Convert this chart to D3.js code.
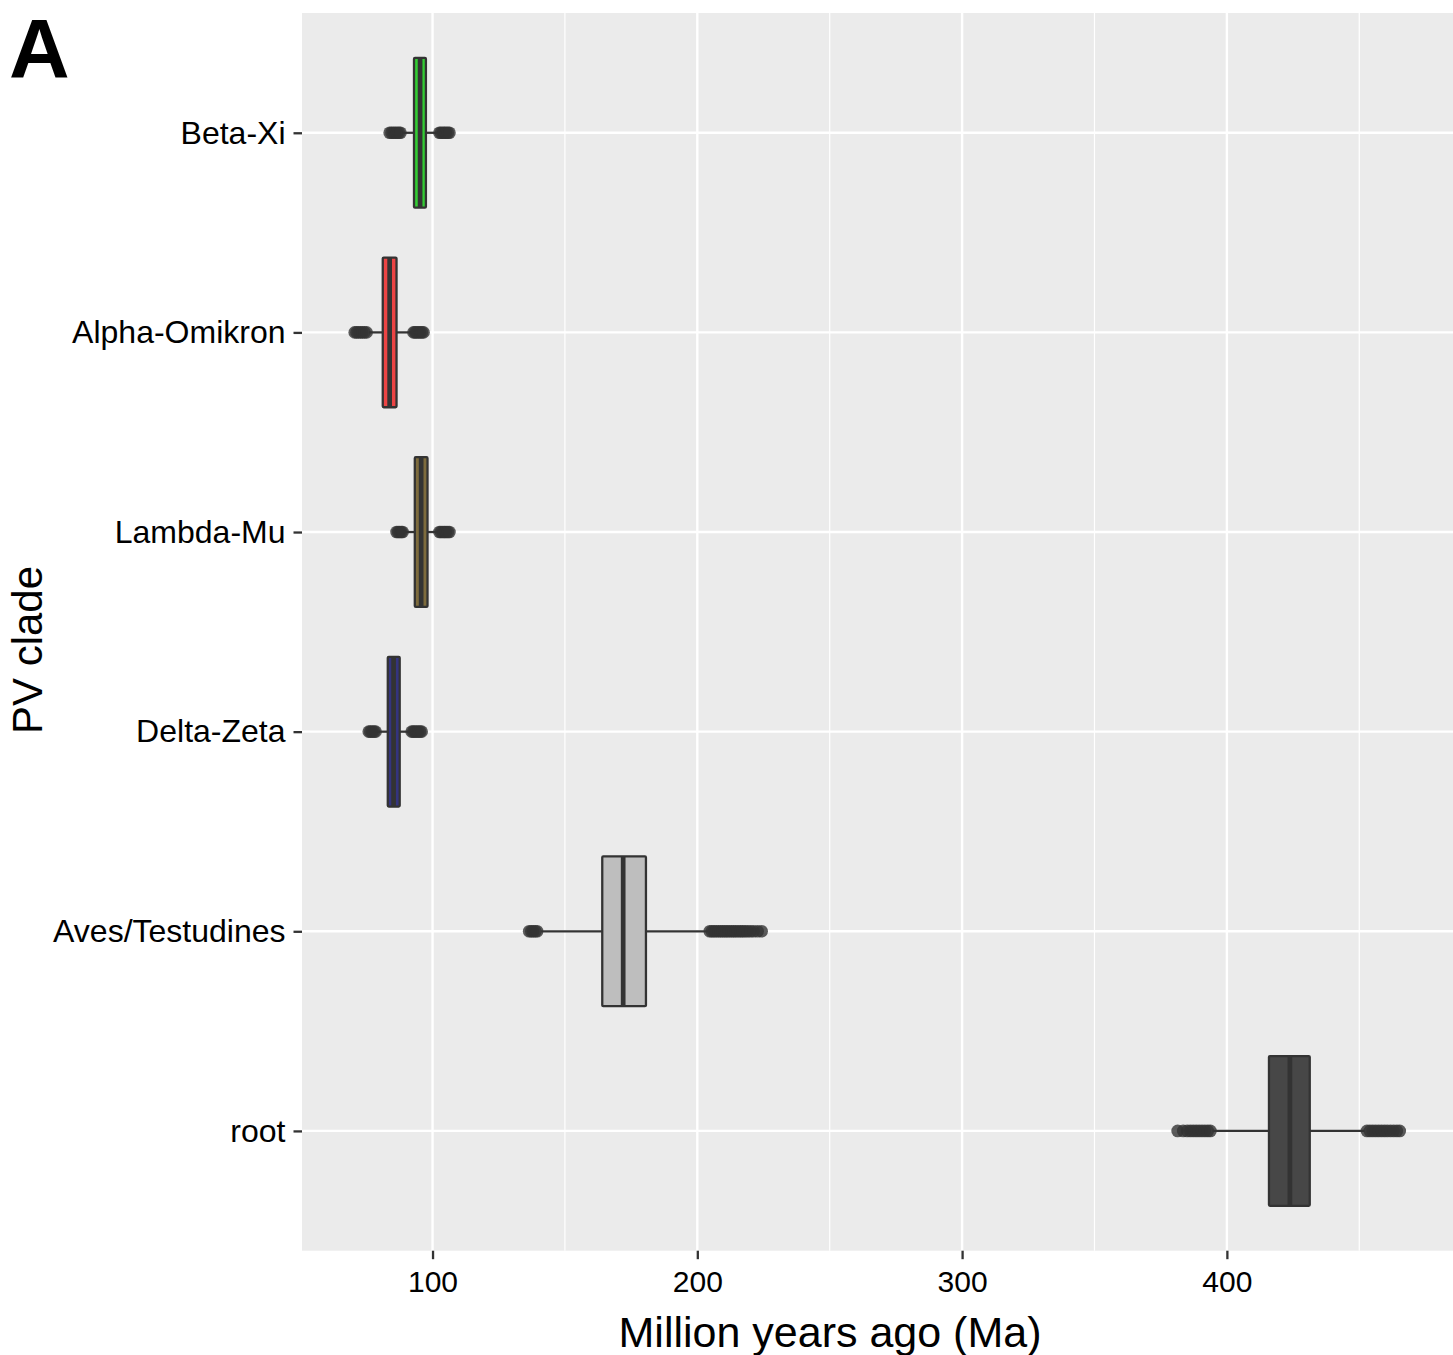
<!DOCTYPE html>
<html>
<head>
<meta charset="utf-8">
<script src="https://cdn.jsdelivr.net/npm/d3@7"></script>
<style>
    body { margin: 0; background: #ffffff; }
    text { font-family: "Liberation Sans", Arial, sans-serif; }
</style>
</head>
<body>
<div id="boxChart"></div>
<script>
// clade names, top to bottom
var clades = ["Beta-Xi", "Alpha-Omikron", "Lambda-Mu", "Delta-Zeta", "Aves/Testudines", "root"];

// box statistics (Ma)
var q1 = [93.0, 81.2, 93.3, 83.1, 164.1, 415.9];
var median = [95.3, 83.8, 95.7, 85.3, 172.0, 423.8];
var q3 = [97.5, 86.4, 98.1, 87.6, 180.6, 431.3];
var whiskerLo = [88.5, 76.0, 89.0, 79.0, 141.0, 394.5];
var whiskerHi = [102.0, 92.0, 102.0, 91.5, 204.0, 452.0];

// outlying points per clade
var outliers = [
    [83.8, 84.5, 85.2, 85.9, 86.6, 87.3, 87.9, 102.6, 103.2, 103.9, 104.5, 105.1, 105.8, 106.4],
    [70.6, 71.3, 72.0, 72.8, 73.5, 74.3, 75.1, 92.8, 93.4, 94.0, 94.7, 95.3, 96.0, 96.6],
    [86.4, 87.0, 87.6, 88.2, 88.7, 102.6, 103.2, 103.9, 104.5, 105.1, 105.8, 106.4],
    [75.9, 76.5, 77.2, 77.9, 78.5, 92.1, 92.7, 93.3, 94.0, 94.6, 95.3, 95.9],
    [136.5, 137.3, 138.0, 138.8, 139.5, 204.7, 205.5, 206.3, 207.1, 208.0, 208.8, 209.6, 210.4,
     211.2, 212.0, 212.9, 213.7, 214.5, 215.4, 216.3, 217.1, 218.0, 219.0, 220.1, 221.3, 222.8, 224.3],
    [381.4, 383.5, 385.0, 386.2, 387.3, 388.4, 389.5, 390.6, 391.7, 392.8, 393.8,
     452.9, 454.0, 455.1, 456.2, 457.3, 458.4, 459.5, 460.6, 461.8, 463.0, 464.2, 465.3]
];

var fills = ["#33cc33", "#ec4444", "#7d6b3d", "#34347e", "#bebebe", "#474747"];

var majorTicks = [100, 200, 300, 400];
var minorTicks = [150, 250, 350, 450];

function init() {

    var w = 1453;
    var h = 1355;
    var panel = {left: 302, right: 1453, top: 13, bottom: 1250.7};

    var xScale = d3.scaleLinear()
        .domain([50.7, 485.4])
        .range([panel.left, panel.right]);

    var yScale = d3.scalePoint()
        .domain(clades)
        .range([panel.top, panel.bottom])
        .padding(0.6);

    var boxH = yScale.step() * 0.75;

    var svg = d3.select("#boxChart")
        .append("svg")
        .attr("width", w)
        .attr("height", h);

    //panel background
    svg.append("rect")
        .attr("x", panel.left)
        .attr("y", panel.top)
        .attr("width", panel.right - panel.left)
        .attr("height", panel.bottom - panel.top)
        .style("fill", "#ebebeb");

    //grid lines
    svg.selectAll(".minor")
        .data(minorTicks)
        .enter()
        .append("line")
        .attr("x1", function (d) { return xScale(d); })
        .attr("x2", function (d) { return xScale(d); })
        .attr("y1", panel.top)
        .attr("y2", panel.bottom)
        .style("stroke", "#ffffff")
        .style("stroke-width", 1.2);

    svg.selectAll(".majorX")
        .data(majorTicks)
        .enter()
        .append("line")
        .attr("x1", function (d) { return xScale(d); })
        .attr("x2", function (d) { return xScale(d); })
        .attr("y1", panel.top)
        .attr("y2", panel.bottom)
        .style("stroke", "#ffffff")
        .style("stroke-width", 2.4);

    svg.selectAll(".majorY")
        .data(clades)
        .enter()
        .append("line")
        .attr("x1", panel.left)
        .attr("x2", panel.right)
        .attr("y1", function (d) { return yScale(d); })
        .attr("y2", function (d) { return yScale(d); })
        .style("stroke", "#ffffff")
        .style("stroke-width", 2.4);

    var rows = clades.map(function (c, i) {
        return {clade: c, q1: q1[i], med: median[i], q3: q3[i],
                lo: whiskerLo[i], hi: whiskerHi[i], out: outliers[i], fill: fills[i]};
    });

    var groups = svg.selectAll(".clade")
        .data(rows)
        .enter()
        .append("g")
        .attr("transform", function (d) { return "translate(0," + yScale(d.clade) + ")"; });

    //outliers first, like ggplot
    groups.selectAll("circle")
        .data(function (d) { return d.out; })
        .enter()
        .append("circle")
        .attr("cx", function (d) { return xScale(d); })
        .attr("cy", 0)
        .attr("r", 6.3)
        .style("fill", "#333333")
        .style("fill-opacity", 0.8);

    //whiskers
    groups.append("line")
        .attr("x1", function (d) { return xScale(d.lo); })
        .attr("x2", function (d) { return xScale(d.q1); })
        .attr("y1", 0).attr("y2", 0)
        .style("stroke", "#333333")
        .style("stroke-width", 2.3);

    groups.append("line")
        .attr("x1", function (d) { return xScale(d.q3); })
        .attr("x2", function (d) { return xScale(d.hi); })
        .attr("y1", 0).attr("y2", 0)
        .style("stroke", "#333333")
        .style("stroke-width", 2.3);

    //boxes
    groups.append("rect")
        .attr("x", function (d) { return xScale(d.q1); })
        .attr("y", -boxH / 2)
        .attr("width", function (d) { return xScale(d.q3) - xScale(d.q1); })
        .attr("height", boxH)
        .attr("rx", 1)
        .style("fill", function (d) { return d.fill; })
        .style("stroke", "#333333")
        .style("stroke-width", 2.3);

    //medians
    groups.append("line")
        .attr("x1", function (d) { return xScale(d.med); })
        .attr("x2", function (d) { return xScale(d.med); })
        .attr("y1", -boxH / 2)
        .attr("y2", boxH / 2)
        .style("stroke", "#333333")
        .style("stroke-width", 4.7);

    //x axis
    var xAxis = d3.axisBottom()
        .scale(xScale)
        .tickValues(majorTicks)
        .tickSize(8.5)
        .tickPadding(4);

    var gx = svg.append("g")
        .attr("class", "axis")
        .attr("transform", "translate(0," + panel.bottom + ")")
        .call(xAxis);
    gx.select(".domain").remove();
    gx.selectAll("line").style("stroke", "#333333").style("stroke-width", 2.3);
    gx.selectAll("text")
        .style("font-size", "30px")
        .style("fill", "#000000")
        .attr("dy", "0.95em");

    //y axis
    var yAxis = d3.axisLeft()
        .scale(yScale)
        .tickSize(8.5)
        .tickPadding(8);

    var gy = svg.append("g")
        .attr("class", "axis")
        .attr("transform", "translate(" + panel.left + ",0)")
        .call(yAxis);
    gy.select(".domain").remove();
    gy.selectAll("line").style("stroke", "#333333").style("stroke-width", 2.3);
    gy.selectAll("text")
        .style("font-size", "32px")
        .style("fill", "#000000");

    //axis titles
    svg.append("text")
        .attr("x", 830)
        .attr("y", 1347)
        .attr("text-anchor", "middle")
        .style("font-size", "43px")
        .style("fill", "#000000")
        .text("Million years ago (Ma)");

    svg.append("text")
        .attr("transform", "translate(42,650) rotate(-90)")
        .attr("text-anchor", "middle")
        .style("font-size", "42px")
        .style("fill", "#000000")
        .text("PV clade");

    //panel tag
    svg.append("text")
        .attr("x", 9)
        .attr("y", 78)
        .style("font-size", "84px")
        .style("font-weight", "bold")
        .style("fill", "#000000")
        .text("A");
}

window.onload = init;
</script>
</body>
</html>
